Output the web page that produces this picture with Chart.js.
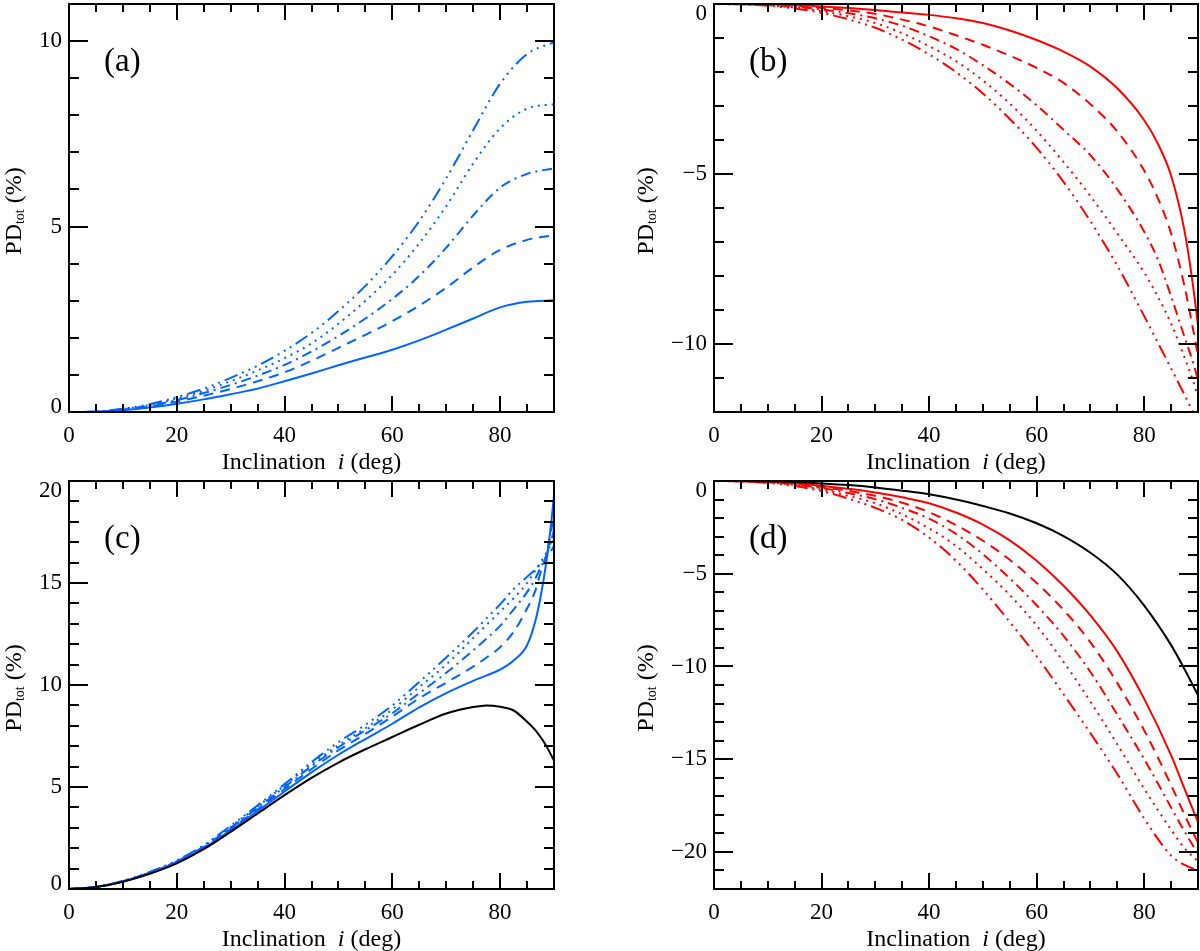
<!DOCTYPE html>
<html>
<head>
<meta charset="utf-8">
<script src="https://cdn.jsdelivr.net/npm/chart.js@4.4.1/dist/chart.umd.min.js"></script>
<style>
html,body{margin:0;padding:0;background:#fff;width:1200px;height:951px;overflow:hidden;}
canvas{position:absolute;display:block;}
</style>
</head>
<body>
<canvas id="ca" width="600" height="476" style="left:0;top:0;width:600px;height:476px"></canvas>
<canvas id="cb" width="600" height="476" style="left:600px;top:0;width:600px;height:476px"></canvas>
<canvas id="cc" width="600" height="475" style="left:0;top:476px;width:600px;height:475px"></canvas>
<canvas id="cd" width="600" height="475" style="left:600px;top:476px;width:600px;height:475px"></canvas>
<script>
// ---------- data ----------
const xTickLabels = [0, 20, 40, 60, 80];
const yTicksA = [0, 5, 10];
const yTicksB = [0, -5, -10];
const yTicksC = [0, 5, 10, 15, 20];
const yTicksD = [0, -5, -10, -15, -20];

// panel (a)
const incA = [0,5,10,15,20,25,30,35,40,45,50,55,60,65,70,75,80,85,90];
const a_solid   = [0,0.01,0.05,0.12,0.22,0.34,0.48,0.63,0.83,1.04,1.26,1.47,1.68,1.93,2.22,2.52,2.82,2.97,3.01];
const a_dash    = [0,0.01,0.06,0.15,0.28,0.44,0.62,0.83,1.07,1.38,1.73,2.08,2.45,2.87,3.35,3.9,4.37,4.64,4.77];
const a_dashdot = [0,0.01,0.07,0.17,0.32,0.51,0.73,0.98,1.27,1.63,2.05,2.52,3.05,3.67,4.43,5.3,6.05,6.42,6.57];
const a_dot     = [0,0.01,0.08,0.19,0.36,0.57,0.83,1.12,1.45,1.85,2.38,3.0,3.7,4.55,5.55,6.7,7.65,8.18,8.3];
const a_dash3   = [0,0.01,0.09,0.21,0.4,0.63,0.92,1.25,1.65,2.13,2.72,3.4,4.2,5.15,6.3,7.6,8.85,9.65,9.97];

// panel (b)
const incB = [0,5,10,15,20,25,30,35,40,45,50,55,60,65,70,75,80,82.5,85,87.5,89,90];
const b_solid   = [0,0,-0.01,-0.03,-0.07,-0.12,-0.18,-0.25,-0.32,-0.42,-0.56,-0.78,-1.06,-1.4,-1.84,-2.48,-3.42,-4.1,-5.05,-6.68,-8.2,-9.45];
const b_dash    = [0,0,-0.02,-0.05,-0.11,-0.19,-0.29,-0.46,-0.66,-0.92,-1.2,-1.52,-1.88,-2.32,-2.95,-3.75,-4.9,-5.7,-6.75,-8.31,-9.5,-10.37];
const b_dashdot = [0,-0.01,-0.03,-0.08,-0.16,-0.27,-0.42,-0.64,-0.95,-1.32,-1.8,-2.35,-2.98,-3.7,-4.45,-5.45,-6.7,-7.5,-8.6,-9.8,-10.5,-11.06];
const b_dot     = [0,-0.01,-0.04,-0.1,-0.21,-0.36,-0.56,-0.86,-1.24,-1.68,-2.25,-2.93,-3.73,-4.65,-5.65,-6.75,-7.9,-8.6,-9.4,-10.4,-11.05,-11.55];
const b_dash3   = [0,-0.01,-0.05,-0.13,-0.26,-0.45,-0.7,-1.05,-1.48,-2.0,-2.63,-3.38,-4.23,-5.23,-6.39,-7.7,-9.18,-9.95,-10.72,-11.5,-11.98,-12.3];

// panel (c)
const incC = [0,5,10,15,20,25,30,35,40,45,50,55,60,65,70,75,77.5,80,82.5,85,86.5,87.5,88.5,89.5,90];
const c_black   = [0,0.1,0.36,0.75,1.26,1.95,2.8,3.7,4.6,5.45,6.2,6.85,7.45,8.05,8.6,8.92,9.0,8.93,8.75,8.2,7.8,7.45,7.05,6.55,6.3];
const c_solid   = [0,0.1,0.37,0.78,1.3,2.0,2.88,3.82,4.78,5.72,6.58,7.35,8.1,8.9,9.6,10.2,10.47,10.75,11.2,11.95,13.1,14.3,15.9,18.0,19.3];
const c_dash    = [0,0.1,0.38,0.8,1.33,2.05,2.95,3.9,4.9,5.88,6.8,7.6,8.45,9.35,10.12,10.9,11.35,11.85,12.6,13.75,14.6,15.5,16.3,17.6,18.4];
const c_dashdot = [0,0.1,0.38,0.81,1.35,2.08,3.0,3.98,5.0,6.02,6.95,7.78,8.62,9.6,10.6,11.7,12.28,12.9,13.7,14.55,15.2,15.75,16.3,17.1,17.6];
const c_dot     = [0,0.1,0.39,0.82,1.37,2.1,3.05,4.05,5.08,6.12,7.05,7.88,8.8,9.9,11.0,12.3,12.95,13.6,14.25,15.0,15.6,16.0,16.45,16.9,17.1];
const c_dash3   = [0,0.1,0.4,0.84,1.4,2.15,3.1,4.1,5.14,6.22,7.2,8.05,9.0,10.15,11.35,12.6,13.28,13.95,14.7,15.3,15.65,15.95,16.25,16.6,16.8];

// panel (d)
const incD = [0,5,10,15,20,25,30,35,40,45,50,55,60,65,70,75,80,85,87.5,90];
const d_black   = [0,0,-0.02,-0.06,-0.13,-0.22,-0.35,-0.52,-0.72,-1.0,-1.35,-1.75,-2.28,-2.97,-3.87,-5.05,-6.72,-8.85,-10.15,-11.55];
const d_solid   = [0,-0.01,-0.04,-0.12,-0.25,-0.42,-0.62,-0.88,-1.2,-1.7,-2.35,-3.2,-4.3,-5.65,-7.25,-9.2,-11.75,-14.8,-16.6,-18.4];
const d_dash    = [0,-0.01,-0.05,-0.15,-0.32,-0.53,-0.8,-1.17,-1.68,-2.38,-3.22,-4.25,-5.5,-6.95,-8.7,-10.9,-13.45,-16.4,-18.0,-19.5];
const d_dashdot = [0,-0.01,-0.06,-0.18,-0.38,-0.65,-0.98,-1.45,-2.03,-2.85,-3.95,-5.25,-6.7,-8.35,-10.3,-12.6,-15.0,-17.6,-18.9,-20.1];
const d_dot     = [0,-0.02,-0.08,-0.22,-0.46,-0.8,-1.2,-1.8,-2.55,-3.5,-4.75,-6.15,-7.8,-9.75,-11.9,-14.2,-16.6,-18.8,-19.8,-20.5];
const d_dash3   = [0,-0.02,-0.1,-0.27,-0.55,-0.95,-1.45,-2.1,-3.05,-4.3,-5.85,-7.6,-9.45,-11.5,-13.6,-15.8,-18.2,-20.2,-20.7,-21.0];

// ---------- styles ----------
const COLORS = { blue: 'rgb(0,100,255)', red: '#ff0000', black: '#000000' };
const DASHES = { solid: [], dashed: [10, 7], dashdot: [10, 5, 2, 5], dotted: [2, 5], dash3: [14, 5, 2, 5, 2, 5, 2, 5] };
const FONT = '"Liberation Serif", "Times New Roman", serif';

const panels = [
  { id: 'ca', W: 600, H: 476, area: { left: 69, top: 4, right: 554, bottom: 412 }, yMin: 0, yMax: 11, yTicks: yTicksA, yTitleX: 21, label: '(a)', xs: incA,
    series: [[a_solid, 'blue', 'solid'], [a_dash, 'blue', 'dashed'], [a_dashdot, 'blue', 'dashdot'], [a_dot, 'blue', 'dotted'], [a_dash3, 'blue', 'dash3']] },
  { id: 'cb', W: 600, H: 476, area: { left: 114, top: 4, right: 598, bottom: 412 }, yMin: -12, yMax: 0, yTicks: yTicksB, yTitleX: 53, label: '(b)', xs: incB,
    series: [[b_solid, 'red', 'solid'], [b_dash, 'red', 'dashed'], [b_dashdot, 'red', 'dashdot'], [b_dot, 'red', 'dotted'], [b_dash3, 'red', 'dash3']] },
  { id: 'cc', W: 600, H: 475, area: { left: 69, top: 5, right: 554, bottom: 413 }, yMin: 0, yMax: 20, yTicks: yTicksC, yTitleX: 21, label: '(c)', xs: incC,
    series: [[c_black, 'black', 'solid'], [c_solid, 'blue', 'solid'], [c_dash, 'blue', 'dashed'], [c_dashdot, 'blue', 'dashdot'], [c_dot, 'blue', 'dotted'], [c_dash3, 'blue', 'dash3']] },
  { id: 'cd', W: 600, H: 475, area: { left: 114, top: 5, right: 598, bottom: 413 }, yMin: -22, yMax: 0, yTicks: yTicksD, yTitleX: 53, label: '(d)', xs: incD,
    series: [[d_black, 'black', 'solid'], [d_solid, 'red', 'solid'], [d_dash, 'red', 'dashed'], [d_dashdot, 'red', 'dashdot'], [d_dot, 'red', 'dotted'], [d_dash3, 'red', 'dash3']] }
];

function fmt(v) { return v < 0 ? '\u2212' + Math.abs(v) : String(v); }

const framePlugin = {
  id: 'frame',
  afterDatasetsDraw(chart) {
    const p = chart.options.plugins.frame;
    const { ctx, chartArea: a } = chart;
    const x = chart.scales.x, y = chart.scales.y;
    ctx.save();
    ctx.strokeStyle = '#000';
    ctx.lineWidth = 2;
    ctx.lineCap = 'butt';
    ctx.beginPath();
    for (let v = x.min + 5; v < x.max; v += 5) {
      const px = Math.round(x.getPixelForValue(v));
      const len = xTickLabels.includes(v) ? 16 : 8;
      ctx.moveTo(px, a.bottom); ctx.lineTo(px, a.bottom - len);
      ctx.moveTo(px, a.top); ctx.lineTo(px, a.top + len);
    }
    for (let v = Math.ceil(y.min); v <= y.max; v += 1) {
      if (v <= y.min || v >= y.max) continue;
      const py = Math.round(y.getPixelForValue(v));
      const len = (v % 5 === 0) ? 19 : 10;
      ctx.moveTo(a.left, py); ctx.lineTo(a.left + len, py);
      ctx.moveTo(a.right, py); ctx.lineTo(a.right - len, py);
    }
    ctx.stroke();
    ctx.strokeRect(a.left, a.top, a.right - a.left, a.bottom - a.top);

    ctx.fillStyle = '#000';
    ctx.font = '23px ' + FONT;
    ctx.textAlign = 'right';
    ctx.textBaseline = 'alphabetic';
    p.yTicks.forEach(v => {
      if (v === y.min) ctx.fillText(fmt(v), a.left - 7, a.bottom + 1);
      else if (v === y.max) ctx.fillText(fmt(v), a.left - 7, a.top + 15.5);
    });

    const fN = '24px ' + FONT, fI = 'italic 24px ' + FONT;
    const parts = [['Inclination  ', fN], ['i', fI], [' (deg)', fN]];
    let tw = 0;
    parts.forEach(([t, f]) => { ctx.font = f; tw += ctx.measureText(t).width; });
    let cx = (a.left + a.right) / 2 - tw / 2;
    ctx.textAlign = 'left';
    parts.forEach(([t, f]) => { ctx.font = f; ctx.fillText(t, cx, a.bottom + 57); cx += ctx.measureText(t).width; });

    const yparts = [['PD', fN, 0], ['tot', '14px ' + FONT, 3], [' (%)', fN, 0]];
    let yw = 0;
    yparts.forEach(([t, f]) => { ctx.font = f; yw += ctx.measureText(t).width; });
    ctx.save();
    ctx.translate(p.yTitleX, (a.top + a.bottom) / 2 + 3);
    ctx.rotate(-Math.PI / 2);
    let tx = -yw / 2;
    yparts.forEach(([t, f, dy]) => { ctx.font = f; ctx.fillText(t, tx, dy); tx += ctx.measureText(t).width; });
    ctx.restore();

    ctx.font = '33px ' + FONT;
    ctx.fillText(p.label, a.left + 35, a.top + 66.5);
    ctx.restore();
  }
};

panels.forEach(P => {
  const datasets = P.series.map(([vals, col, dash]) => ({
    data: P.xs.map((xv, i) => ({ x: xv, y: vals[i] })),
    borderColor: COLORS[col],
    borderWidth: 2,
    borderDash: DASHES[dash],
    pointRadius: 0,
    fill: false,
    cubicInterpolationMode: 'monotone'
  }));
  const A = P.area;
  new Chart(document.getElementById(P.id), {
    type: 'line',
    data: { datasets },
    plugins: [framePlugin],
    options: {
      responsive: false,
      animation: false,
      events: [],
      layout: { padding: { left: 0, top: A.top, right: P.W - A.right, bottom: 0 } },
      plugins: {
        legend: { display: false },
        tooltip: { enabled: false },
        frame: { yTicks: P.yTicks, yTitleX: P.yTitleX, label: P.label }
      },
      scales: {
        x: {
          type: 'linear', min: 0, max: 90,
          afterBuildTicks: s => { s.ticks = xTickLabels.map(v => ({ value: v })); },
          afterFit: s => { s.height = P.H - A.bottom; s.paddingLeft = 0; s.paddingRight = 0; },
          ticks: { font: { family: FONT, size: 23 }, color: '#000', padding: 10, maxRotation: 0, autoSkip: false, callback: v => fmt(v) },
          grid: { display: false, drawTicks: false },
          border: { display: false }
        },
        y: {
          type: 'linear', min: P.yMin, max: P.yMax,
          afterBuildTicks: s => { s.ticks = P.yTicks.map(v => ({ value: v })); },
          afterFit: s => { s.width = A.left; s.paddingTop = 0; s.paddingBottom = 0; },
          ticks: {
            font: { family: FONT, size: 23 }, color: '#000', padding: 7, autoSkip: false,
            callback: function (v) { return (v === this.min || v === this.max) ? '' : fmt(v); }
          },
          grid: { display: false, drawTicks: false },
          border: { display: false }
        }
      }
    }
  });
});
</script>
</body>
</html>
